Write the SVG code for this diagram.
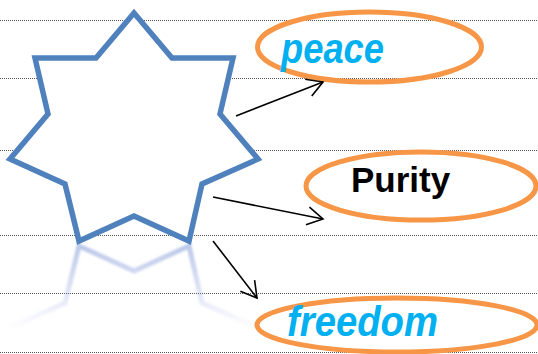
<svg xmlns="http://www.w3.org/2000/svg" width="538" height="354" viewBox="0 0 538 354">
<style>
.rule{stroke:#555;stroke-width:1;stroke-dasharray:1,1;fill:none}
.ell{fill:none;stroke:#f79646;stroke-width:5}
.star{fill:#fff;stroke:#4f81bd;stroke-width:5.5;stroke-linejoin:miter}
.conn{stroke:#000;stroke-width:1.6;fill:none}
.blue{font-family:"Liberation Sans",Arial,sans-serif;font-weight:bold;font-style:italic;fill:#00b0f0}
.blk{font-family:"Liberation Sans",Arial,sans-serif;font-weight:bold;fill:#000}
</style>
<defs>
<marker id="arr" markerUnits="userSpaceOnUse" viewBox="-18 -11 20 22" markerWidth="20" markerHeight="22" refX="0" refY="0" orient="auto">
<path d="M-15.6,-9 L0,0 L-15.6,9" fill="none" stroke="#000" stroke-width="1.6"/>
</marker>
<linearGradient id="fade" gradientUnits="userSpaceOnUse" x1="0" y1="243" x2="0" y2="330">
<stop offset="0" stop-color="#7f9ad6" stop-opacity="0.55"/>
<stop offset="0.6" stop-color="#9aa8e0" stop-opacity="0.3"/>
<stop offset="1" stop-color="#b0b4ea" stop-opacity="0"/>
</linearGradient>
<filter id="blur" x="-10%" y="-10%" width="120%" height="120%"><feGaussianBlur stdDeviation="1"/></filter>
</defs>
<g id="rules">
<line class="rule" x1="0" y1="20.5" x2="538" y2="20.5"/>
<line class="rule" x1="0" y1="78.5" x2="538" y2="78.5"/>
<line class="rule" x1="0" y1="150.5" x2="538" y2="150.5"/>
<line class="rule" x1="0" y1="235.5" x2="538" y2="235.5"/>
<line class="rule" x1="0" y1="293.5" x2="538" y2="293.5"/>
<line class="rule" x1="0" y1="352.5" x2="538" y2="352.5"/>
</g>
<g id="star">
<polyline points="10,328 65,303 79,246 134,271 189,246 202,303 258,328" fill="none" stroke="url(#fade)" stroke-width="5" filter="url(#blur)"/>
<polygon class="star" points="134,13 172,58 233,58 220,114 258,159 202,184 189,241 134,216 79,241 65,184 10,159 48,114 35,58 96,58"/>
</g>
<g id="peace">
<ellipse class="ell" cx="369.5" cy="47" rx="112" ry="35"/>
<text class="blue" x="281" y="63" font-size="42" textLength="103" lengthAdjust="spacingAndGlyphs">peace</text>
</g>
<g id="purity">
<ellipse class="ell" cx="421" cy="186" rx="115" ry="34"/>
<text class="blk" x="351" y="192" font-size="35">Purity</text>
</g>
<g id="freedom">
<ellipse class="ell" cx="397" cy="325" rx="140" ry="27"/>
<text class="blue" x="287" y="336" font-size="42" textLength="151" lengthAdjust="spacingAndGlyphs">freedom</text>
</g>
<g id="connectors">
<line class="conn" x1="236" y1="116" x2="323" y2="82" marker-end="url(#arr)"/>
<line class="conn" x1="213" y1="197" x2="323" y2="219" marker-end="url(#arr)"/>
<line class="conn" x1="213" y1="241" x2="257" y2="298" marker-end="url(#arr)"/>
</g>
</svg>
